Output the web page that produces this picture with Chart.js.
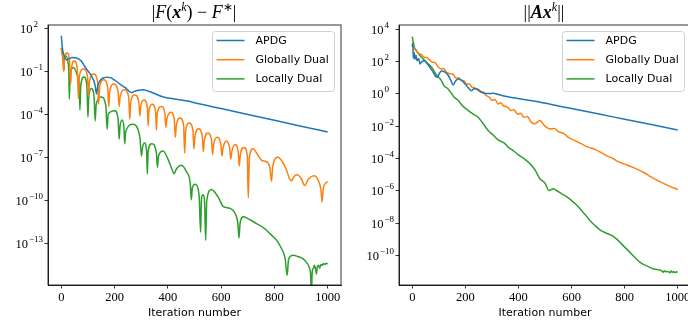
<!DOCTYPE html>
<html>
<head>
<meta charset="utf-8">
<script src="https://cdn.jsdelivr.net/npm/chart.js@4.4.1/dist/chart.umd.min.js"></script>
<style>
  body { margin: 0; background: #fff; }
  #wrap { position: relative; width: 688px; height: 324px; overflow: hidden; }
  canvas { position: absolute; top: 0; }
  .ttl { position: absolute; top: 1px; width: 240px; text-align: center;
         font: 18px "Liberation Serif", serif; line-height: 22px; color: #000; white-space: nowrap; }
  .ttl sup { font-size: 12px; vertical-align: 7px; line-height: 0; }
</style>
</head>
<body>
<div id="wrap">
  <canvas id="gapChart" width="344" height="324" style="left:0"></canvas>
  <canvas id="resChart" width="352" height="324" style="left:344px"></canvas>
  <div class="ttl" style="left:74px">|<i>F</i>(<b><i>x</i></b><sup><i>k</i></sup>) − <i>F</i><sup>∗</sup>|</div>
  <div class="ttl" style="left:424px">||<b><i>Ax</i></b><sup><i>k</i></sup>||</div>
</div>
<script>
// valeurs : [itération, exposant base 10]
const ITER_TICKS = [0, 200, 400, 600, 800, 1000];
const GAP_TICK_EXPS = [2, -1, -4, -7, -10, -13];
const RES_TICK_EXPS = [4, 2, 0, -2, -4, -6, -8, -10];
const SERIES_LABELS = ['APDG', 'Globally Dual', 'Locally Dual'];
const SERIES_COLORS = ['#1f77b4', '#ff7f0e', '#2ca02c'];

// |F(x^k) - F*|
const apdgGap = [[0,1.46],[4,0.6],[10,0.1],[18,-0.2],[28,-0.15],[40,-0.05],[57,-0.08],[75,-0.3],[89,-0.71],
  [105,-1.1],[118,-1.5],[127,-2.0],[132,-2.58],[137,-2.0],[148,-1.6],[160,-1.45],[172,-1.42],[185,-1.45],
  [200,-1.62],[220,-1.9],[240,-2.15],[255,-2.4],[263,-2.5],[272,-2.42],[290,-2.33],[308,-2.3],[325,-2.38],
  [350,-2.55],[375,-2.75],[400,-2.87],[425,-2.93],[450,-3.0],[475,-3.08],[500,-3.2],[600,-3.6],[700,-4.01],
  [800,-4.42],[900,-4.83],[1000,-5.23]];
const globalGap = [[0,0.62],[3,0.3],[6,-0.3],[9,-1.0],[11,-0.3],[21,0.27],[31,-0.3],
  [35,-1.9],[38,-0.85],[48,-0.3],[60,-0.8],
  [64,-2.9],[68,-1.3],[83,-0.85],[98,-1.35],
  [102,-2.7],[106,-1.65],[121,-1.2],[136,-1.7],
  [140,-3.3],[144,-2.05],[159,-1.6],[174,-2.1],
  [178,-3.5],[182,-2.35],[197,-1.9],[213,-2.4],
  [217,-3.45],[221,-2.75],[237,-2.3],[253,-2.8],
  [257,-4.35],[261,-3.1],[276,-2.65],[291,-3.15],
  [295,-4.1],[298,-3.45],[310,-3.0],[323,-3.5],
  [326,-4.8],[329,-3.75],[341,-3.3],[354,-3.8],
  [357,-5.1],[360,-3.95],[375,-3.45],[389,-3.95],
  [392,-4.9],[396,-4.35],[410,-3.85],[424,-4.35],
  [428,-5.6],[432,-4.75],[445,-4.25],[459,-4.75],
  [463,-6.7],[467,-5.1],[480,-4.6],[494,-5.1],
  [498,-6.4],[502,-5.5],[515,-5.0],[529,-5.5],
  [533,-6.6],[537,-5.8],[550,-5.3],[564,-5.8],
  [568,-6.8],[572,-6.1],[585,-5.6],[599,-6.1],
  [603,-6.9],[607,-6.35],[620,-5.85],[632,-6.35],
  [636,-7.1],[640,-6.6],[652,-6.1],[664,-6.6],
  [668,-7.6],[672,-6.8],[685,-6.3],[698,-6.85],
  [702,-9.8],[706,-7.0],[720,-6.4],[737,-6.8],[752,-7.2],[768,-7.28],[783,-7.7],
  [789,-8.65],[794,-7.6],[814,-6.98],[830,-7.3],[845,-7.85],[856,-8.45],[864,-8.62],[873,-8.35],
  [885,-8.2],[900,-8.45],[914,-8.95],[928,-8.5],[948,-8.27],[965,-8.6],[975,-9.3],
  [979,-10.1],[983,-9.2],[992,-8.8],[1000,-8.67]];
const localGap = [[0,0.62],[4,0.2],[8,-0.4],[10,-0.95],[12,-0.1],[18,0.05],[25,-0.4],[28,-1.0],
  [30,-2.93],[33,-1.3],[45,-0.75],[60,-1.3],[67,-2.0],
  [70,-3.7],[73,-2.0],[85,-1.4],[96,-2.0],
  [100,-4.2],[103,-2.8],[113,-2.2],[123,-2.8],
  [127,-4.46],[131,-3.3],[150,-2.8],[167,-3.4],
  [172,-5.04],[176,-4.0],[200,-3.75],[213,-4.3],
  [217,-5.74],[220,-4.9],[228,-4.4],[235,-4.9],
  [238,-6.05],[242,-5.2],[268,-4.7],[295,-5.6],
  [301,-6.9],[304,-6.4],[312,-6.0],[320,-6.5],
  [323,-8.15],[326,-6.6],[340,-6.05],[357,-6.7],
  [361,-7.7],[365,-6.9],[382,-6.56],[400,-7.1],[415,-7.8],[423,-8.13],[432,-7.8],[451,-7.54],[470,-8.0],[484,-8.8],
  [488,-9.95],[492,-9.1],[502,-8.86],[517,-9.6],
  [523,-12.2],[526,-9.9],[532,-9.6],[538,-10.2],
  [542,-12.76],[546,-10.0],[564,-9.23],[590,-9.8],[608,-10.42],[633,-10.54],[655,-11.0],[663,-11.6],
  [667,-12.6],[671,-11.6],[683,-11.12],[710,-11.35],[733,-11.6],[760,-11.9],[783,-12.3],[810,-12.8],[827,-13.35],[840,-14.0],
  [848,-15.2],[853,-14.1],[870,-13.8],[890,-13.9],[908,-14.05],[920,-14.3],[930,-14.6],[936,-15.2],[939,-16.5],
  [942,-14.9],[947,-14.7],[950,-14.5],[954,-14.7],[958,-15.1],[961,-14.6],[966,-14.5],[970,-14.7],[975,-14.45],
  [980,-14.5],[985,-14.38],[990,-14.45],[995,-14.35],[1000,-14.4]];

// ||A x^k||
const apdgRes = [[0,2.9],[2,3.15],[4,2.2],[7,2.55],[10,2.15],[14,2.4],[18,2.05],[24,2.2],[29,1.86],[36,2.0],
  [45,2.05],[55,1.9],[68,1.6],[79,1.34],[90,1.05],[95,1.03],[103,1.3],[110,1.42],[120,1.38],[133,1.2],
  [145,0.85],[154,0.56],[163,0.8],[173,0.93],[185,0.85],[200,0.6],[215,0.3],[223,0.2],[232,0.32],[245,0.3],
  [260,0.12],[275,0.02],[290,0.02],[305,0.04],[325,-0.04],[346,-0.13],[380,-0.24],[420,-0.35],[462,-0.45],
  [520,-0.64],[600,-0.91],[713,-1.28],[800,-1.57],[900,-1.9],[1000,-2.23]];
const globalRes = [[0,3.1],[5,2.9],[14,2.68],[25,2.5],[35,2.42],[45,2.27],[55,2.25],[65,2.1],[76,1.96],[85,1.95],
  [95,1.72],[108,1.55],[118,1.58],[128,1.35],[145,1.24],[155,1.2],[165,0.98],[175,1.0],[183,0.85],[195,0.8],
  [205,0.6],[215,0.62],[225,0.42],[235,0.38],[245,0.25],[258,0.1],[268,0.12],[278,-0.1],[290,-0.2],[300,-0.4],
  [312,-0.35],[323,-0.62],[333,-0.55],[345,-0.75],[358,-0.8],[371,-1.03],[383,-0.98],[396,-1.25],[408,-1.2],
  [421,-1.45],[433,-1.4],[449,-1.76],[462,-1.85],[481,-1.65],[500,-2.0],[519,-2.17],[535,-2.15],[550,-2.33],
  [570,-2.45],[588,-2.69],[600,-2.8],[613,-2.89],[638,-3.1],[663,-3.3],[690,-3.45],[713,-3.65],[735,-3.85],
  [756,-4.0],[776,-4.2],[800,-4.35],[838,-4.6],[872,-4.87],[901,-5.16],[930,-5.42],[964,-5.68],[1000,-5.93]];
const localRes = [[0,3.55],[4,3.2],[8,2.9],[16,2.68],[28,2.4],[41,2.17],[57,1.9],[73,1.65],[90,1.2],[110,0.82],
  [120,0.5],[135,0.31],[158,-0.2],[173,-0.41],[190,-0.75],[211,-1.03],[230,-1.25],[248,-1.45],[265,-1.8],
  [286,-2.27],[305,-2.55],[323,-2.85],[348,-3.06],[361,-3.3],[380,-3.51],[400,-3.78],[424,-4.05],[445,-4.35],
  [462,-4.7],[481,-5.26],[500,-5.53],[515,-5.99],[531,-5.88],[545,-6.0],[563,-6.19],[580,-6.35],[600,-6.61],
  [620,-6.9],[638,-7.23],[655,-7.55],[669,-7.85],[688,-8.15],[707,-8.42],[730,-8.62],[751,-8.77],[770,-9.0],
  [788,-9.29],[810,-9.65],[838,-10.12],[860,-10.45],[888,-10.69],[910,-10.85],[938,-10.94],[945,-11.05],
  [950,-10.95],[955,-11.02],[963,-11.0],[970,-11.08],[975,-10.98],[980,-11.06],[985,-11.0],[990,-11.08],
  [995,-11.02],[1000,-11.05]];

const BLACK = '#000';
const SERIF = '"Liberation Serif", serif';
const SANS = '"DejaVu Sans", sans-serif';

// cadre complet autour de la zone de tracé
const framePlugin = {
  id: 'frame',
  afterDatasetsDraw(chart){
    const a = chart.chartArea, ctx = chart.ctx;
    ctx.save();
    ctx.strokeStyle = BLACK; ctx.lineWidth = 0.8;
    ctx.strokeRect(a.left, a.top, a.right - a.left, a.bottom - a.top);
    ctx.restore();
  }
};

// étiquettes 10^n avec exposant en petit (alignées comme si l'exposant avait un signe moins)
const powerTicks = {
  id: 'powerTicks',
  afterDraw(chart){
    const s = chart.scales.y, ctx = chart.ctx;
    ctx.save();
    ctx.fillStyle = BLACK; ctx.textBaseline = 'alphabetic'; ctx.textAlign = 'left';
    s.ticks.forEach(t => {
      const e = Math.round(Math.log10(t.value));
      const y = s.getPixelForValue(t.value);
      const exp = e < 0 ? '\u2212' + (-e) : String(e);
      ctx.font = '9px ' + SERIF;
      const wAlign = ctx.measureText('\u2212' + Math.abs(e)).width;
      ctx.font = '12.5px ' + SERIF; const wb = ctx.measureText('10').width;
      const x0 = s.right - 5 - wAlign - wb - 1;
      ctx.fillText('10', x0, y + 4.5);
      ctx.font = '9px ' + SERIF;
      ctx.fillText(exp, x0 + wb + 1, y - 1.5);
    });
    ctx.restore();
  }
};

// légende encadrée en haut à droite, façon matplotlib
const boxLegend = {
  id: 'boxLegend',
  afterDraw(chart){
    const a = chart.chartArea, ctx = chart.ctx;
    const w = 122, h = 60;
    const x0 = a.right - 7 - w, y0 = a.top + 6;
    ctx.save();
    ctx.beginPath();
    ctx.roundRect(x0 + 0.5, y0 + 0.5, w, h, 3);
    ctx.fillStyle = 'rgba(255,255,255,0.8)'; ctx.fill();
    ctx.strokeStyle = '#d0d0d0'; ctx.lineWidth = 1; ctx.stroke();
    ctx.font = '11px ' + SANS; ctx.textBaseline = 'middle'; ctx.fillStyle = BLACK;
    chart.data.datasets.forEach((ds, i) => {
      const y = y0 + 9.5 + i * 19.2;
      ctx.beginPath();
      ctx.moveTo(x0 + 4.5, y); ctx.lineTo(x0 + 32.5, y);
      ctx.strokeStyle = ds.borderColor; ctx.lineWidth = 1.5; ctx.stroke();
      ctx.fillText(ds.label, x0 + 43.5, y + 0.5);
    });
    ctx.restore();
  }
};

function toPoints(pairs){
  return pairs.map(([k, e]) => ({ x: k, y: Math.pow(10, e) }));
}

function makeChart(canvasId, series, yMinExp, yMaxExp, tickExps, axisWidth, rightPad){
  const ctx = document.getElementById(canvasId).getContext('2d');
  return new Chart(ctx, {
    type: 'line',
    data: {
      datasets: series.map((pts, i) => ({
        label: SERIES_LABELS[i],
        data: toPoints(pts),
        borderColor: SERIES_COLORS[i],
        backgroundColor: SERIES_COLORS[i],
        borderWidth: 1.5,
        pointRadius: 0,
        fill: false,
        cubicInterpolationMode: 'monotone'
      }))
    },
    options: {
      responsive: false,
      animation: false,
      devicePixelRatio: 1,
      layout: { padding: { top: 25, right: rightPad, left: 0, bottom: 0 } },
      plugins: { legend: { display: false }, tooltip: { enabled: false } },
      scales: {
        x: {
          type: 'linear', min: -50, max: 1050,
          afterBuildTicks: s => { s.ticks = ITER_TICKS.map(v => ({ value: v })); },
          afterFit: s => { s.height = 39; },
          grid: { drawOnChartArea: false, tickLength: 3.5, tickColor: BLACK, tickWidth: 0.8 },
          border: { color: BLACK, width: 0.8 },
          ticks: { color: BLACK, font: { family: SERIF, size: 12.5 }, padding: 2, maxRotation: 0,
                   autoSkip: false, callback: v => String(v) },
          title: { display: true, text: 'Iteration number', color: BLACK,
                   font: { family: SANS, size: 11 }, padding: { top: 0, bottom: 4 } }
        },
        y: {
          type: 'logarithmic', min: Math.pow(10, yMinExp), max: Math.pow(10, yMaxExp),
          afterBuildTicks: s => { s.ticks = tickExps.map(e => ({ value: Math.pow(10, e) })); },
          afterFit: s => { s.width = axisWidth; },
          grid: { drawOnChartArea: false, tickLength: 3.5, tickColor: BLACK, tickWidth: 0.8 },
          border: { color: BLACK, width: 0.8 },
          ticks: { callback: () => '', autoSkip: false, padding: 0 }
        }
      }
    },
    plugins: [framePlugin, powerTicks, boxLegend]
  });
}

makeChart('gapChart', [apdgGap, globalGap, localGap], -15.87, 2.21, GAP_TICK_EXPS, 48, 3);
makeChart('resChart', [apdgRes, globalRes, localRes], -11.84, 4.27, RES_TICK_EXPS, 55, 5);
</script>
</body>
</html>
